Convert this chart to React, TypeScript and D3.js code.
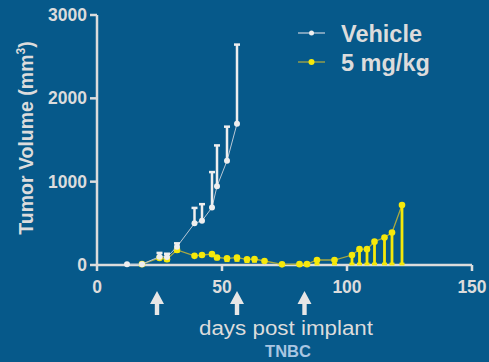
import * as d3 from "d3";

// days post implant
const vehicleDays = [12, 18, 25, 28, 32, 39, 42, 46, 48, 52, 56];
const vehicleVals = [10, 10, 100, 95, 220, 500, 530, 690, 945, 1250, 1695];
const vehicleErr = [0, 0, 45, 40, 40, 185, 200, 425, 490, 410, 950];

const doseDays = [18, 25, 28, 32, 39, 42, 46, 48, 52, 56, 60, 63, 67, 74, 81, 84, 88, 95, 102, 105, 108, 111, 115, 118, 122];
const doseVals = [10, 85, 70, 180, 110, 120, 130, 90, 80, 88, 68, 72, 48, 8, 10, 10, 60, 60, 120, 190, 190, 280, 330, 390, 720];
const doseErr = [0, 10, 30, 30, 0, 0, 25, 30, 40, 45, 40, 40, 0, 0, 0, 0, 60, 60, 120, 190, 190, 280, 330, 390, 720];

const dosingDays = [24, 56, 83];

const xTicks = [0, 50, 100, 150];
const yTicks = [0, 1000, 2000, 3000];

const W = 489;
const H = 362;
const BG = "#06598a";
const FG = "#dcdcdc";
const YELLOW = "#f5e80a";
const FONT = "'Liberation Sans', Arial, sans-serif";

export default function App() {
  const x = d3.scaleLinear().domain([0, 150]).range([97, 472]);
  const y = d3.scaleLinear().domain([0, 3000]).range([265, 15]);

  const vehicle = vehicleDays.map((d, i) => ({ d, v: vehicleVals[i], e: vehicleErr[i] }));
  const dose = doseDays.map((d, i) => ({ d, v: doseVals[i], e: doseErr[i] }));

  const line = d3.line<{ d: number; v: number }>().x(p => x(p.d)).y(p => y(p.v));

  return (
    <svg width={W} height={H} style={{ position: "absolute", left: 0, top: 0, background: BG }} fontFamily={FONT}>
      <rect width={W} height={H} fill={BG} />

      {/* axes */}
      <g stroke={FG} strokeWidth={2.5} fill="none">
        <line x1={x(0)} x2={x(150)} y1={y(0)} y2={y(0)} />
        <line x1={x(0)} x2={x(0)} y1={y(0)} y2={y(3000)} />
        {xTicks.map(t => (
          <line key={"xt" + t} x1={x(t)} x2={x(t)} y1={y(0)} y2={y(0) + 6} />
        ))}
        {yTicks.map(t => (
          <line key={"yt" + t} x1={x(0) - 7} x2={x(0)} y1={y(t)} y2={y(t)} />
        ))}
      </g>
      <g fill={FG} fontWeight="bold" fontSize={17.5}>
        {xTicks.map(t => (
          <text key={"xl" + t} x={x(t)} y={293} textAnchor="middle">{t}</text>
        ))}
        {yTicks.map(t => (
          <text key={"yl" + t} x={x(0) - 10} y={y(t) + 6} textAnchor="end">{t}</text>
        ))}
      </g>

      <text transform="translate(33,138) rotate(-90)" textAnchor="middle" fill={FG} fontWeight="bold" fontSize={19.5}>
        Tumor Volume (mm<tspan dy={-8} fontSize={12}>3</tspan><tspan dy={8}>)</tspan>
      </text>

      {/* 5 mg/kg series */}
      <path d={line(dose) || ""} fill="none" stroke="#a8a842" strokeWidth={1.3} />
      <g stroke={YELLOW} strokeWidth={2.8}>
        {dose.filter(p => p.e > 0).map(p => (
          <g key={"de" + p.d}>
            <line x1={x(p.d)} x2={x(p.d)} y1={y(p.v)} y2={y(p.v - p.e)} />
            <line x1={x(p.d) - 2.5} x2={x(p.d) + 2.5} y1={y(p.v - p.e) - 1} y2={y(p.v - p.e) - 1} />
          </g>
        ))}
      </g>
      <g fill={YELLOW}>
        {dose.map(p => (
          <circle key={"dc" + p.d} cx={x(p.d)} cy={y(p.v)} r={3.3} />
        ))}
      </g>

      {/* vehicle series */}
      <path d={line(vehicle) || ""} fill="none" stroke="#b9c8d6" strokeWidth={1} />
      <g stroke="#eeeeee" strokeWidth={2.5}>
        {vehicle.filter(p => p.e > 0).map(p => (
          <g key={"ve" + p.d}>
            <line x1={x(p.d)} x2={x(p.d)} y1={y(p.v)} y2={y(p.v + p.e)} />
            <line x1={x(p.d) - 3} x2={x(p.d) + 3} y1={y(p.v + p.e)} y2={y(p.v + p.e)} />
          </g>
        ))}
      </g>
      <g fill="#eeeeee">
        {vehicle.map(p => (
          <circle key={"vc" + p.d} cx={x(p.d)} cy={y(p.v)} r={3} />
        ))}
      </g>

      {/* legend */}
      <g>
        <line x1={298} x2={325} y1={33} y2={33} stroke="#b9c8d6" strokeWidth={1.3} />
        <circle cx={311.5} cy={33} r={2.5} fill="#eeeeee" />
        <text x={341} y={41.5} fill={FG} fontWeight="bold" fontSize={23.5}>Vehicle</text>
        <line x1={298} x2={325} y1={62} y2={62} stroke="#a8a842" strokeWidth={1.3} />
        <circle cx={311.5} cy={62} r={3} fill={YELLOW} />
        <text x={341} y={71} fill={FG} fontWeight="bold" fontSize={23.5}>5 mg/kg</text>
      </g>

      {/* dosing arrows */}
      <g fill="#e6e6e6">
        {dosingDays.map(d => {
          const cx = x(d);
          return (
            <path
              key={"ar" + d}
              d={`M${cx},291 L${cx + 7},304 L${cx + 2.2},304 L${cx + 2.2},315 L${cx - 2.2},315 L${cx - 2.2},304 L${cx - 7},304 Z`}
            />
          );
        })}
      </g>

      <text x={286} y={335} textAnchor="middle" fill={FG} fontSize={20} textLength={174} lengthAdjust="spacingAndGlyphs">
        days post implant
      </text>
      <text x={288} y={357} textAnchor="middle" fill="#a9c6e2" fontWeight="bold" fontSize={16.5}>
        TNBC
      </text>
    </svg>
  );
}
